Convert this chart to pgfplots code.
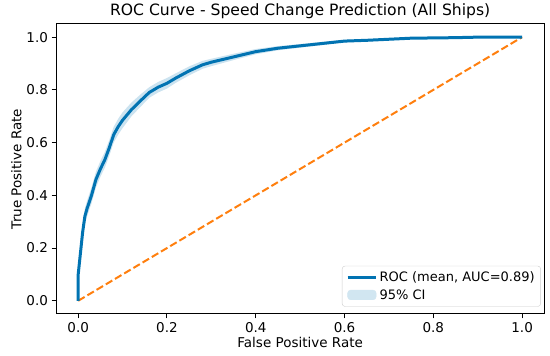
\documentclass[border=0pt]{standalone}
\usepackage{pgfplots}
\pgfplotsset{compat=1.18}
\usepgfplotslibrary{fillbetween}
\usepackage{fontspec}
\setmainfont{DejaVu Sans}
\definecolor{rocblue}{HTML}{0173B2}
\definecolor{diagorange}{HTML}{FF7F0E}
\pgfplotstableread{
x y lo hi
0 0 0 0
0 0.10 0.08 0.12
0.005 0.18 0.15 0.21
0.01 0.26 0.23 0.29
0.015 0.32 0.29 0.35
0.02 0.35 0.32 0.38
0.03 0.40 0.37 0.43
0.04 0.46 0.43 0.49
0.05 0.50 0.47 0.53
0.06 0.535 0.505 0.565
0.07 0.58 0.55 0.61
0.08 0.63 0.60 0.66
0.09 0.66 0.63 0.69
0.10 0.685 0.655 0.715
0.12 0.725 0.70 0.752
0.14 0.758 0.735 0.782
0.16 0.79 0.77 0.81
0.18 0.81 0.79 0.83
0.20 0.825 0.805 0.845
0.22 0.845 0.827 0.863
0.25 0.872 0.855 0.889
0.28 0.895 0.88 0.91
0.30 0.905 0.89 0.918
0.35 0.925 0.913 0.937
0.40 0.945 0.935 0.955
0.45 0.958 0.95 0.966
0.50 0.967 0.96 0.974
0.55 0.976 0.97 0.982
0.60 0.985 0.98 0.99
0.65 0.988 0.984 0.992
0.70 0.992 0.989 0.995
0.75 0.996 0.994 0.998
0.80 0.997 0.995 0.999
0.85 0.998 0.997 0.999
0.90 1.0 1.0 1.0
1.0 1.0 1.0 1.0
}\roc
\begin{document}
\begin{tikzpicture}
\begin{axis}[
  scale only axis,
  width=488.3pt, height=290pt,
  xmin=-0.05, xmax=1.05, ymin=-0.05, ymax=1.05,
  xtick={0,0.2,0.4,0.6,0.8,1.0},
  ytick={0,0.2,0.4,0.6,0.8,1.0},
  xticklabel style={/pgf/number format/.cd,fixed,fixed zerofill,precision=1},
  yticklabel style={/pgf/number format/.cd,fixed,fixed zerofill,precision=1},
  /pgf/number format/assume math mode=true,
  tick label style={font=\fontsize{13.5}{16}\selectfont},
  label style={font=\fontsize{13.5}{16}\selectfont},
  xlabel style={yshift=2pt},
  ylabel style={yshift=-2pt},
  tick align=outside, tick pos=left,
  major tick length=4.5pt,
  every tick/.style={black, line width=1pt},
  axis line style={line width=1pt},
  xlabel={False Positive Rate},
  ylabel={True Positive Rate},
  title={ROC Curve - Speed Change Prediction (All Ships)},
  title style={font=\fontsize{15.6}{18}\selectfont, yshift=-4pt},
  legend style={at={(0.993,0.025)}, anchor=south east, draw=black!20, rounded corners=3pt,
    font=\fontsize{13}{15.5}\selectfont, row sep=2pt, inner sep=4pt},
  legend cell align=left,
  legend image code/.code={\draw[#1] (0cm,0cm) -- (1cm,0cm);},
]
\addlegendimage{rocblue, line width=3pt}
\addlegendentry{ROC (mean, AUC=0.89)}
\addlegendimage{legend image code/.code={\fill[rocblue!18] (0cm,-0.17cm) rectangle (1cm,0.17cm);}}
\addlegendentry{95\% CI}
\addplot[name path=up, draw=none, forget plot] table[x=x,y=hi] {\roc};
\addplot[name path=lo, draw=none, forget plot] table[x=x,y=lo] {\roc};
\addplot[fill=rocblue, fill opacity=0.2, draw=none, forget plot] fill between[of=up and lo];
\addplot[diagorange, line width=2pt, dash pattern=on 7.5pt off 3.2pt, forget plot] coordinates {(0,0) (1,1)};
\addplot[rocblue, line width=3pt, line join=round, forget plot] table[x=x,y=y] {\roc};
\end{axis}
\path (current axis.south west) ++(-56pt,-41.7pt) (current axis.north east) ++(5.7pt,23.3pt);
\end{tikzpicture}
\end{document}
